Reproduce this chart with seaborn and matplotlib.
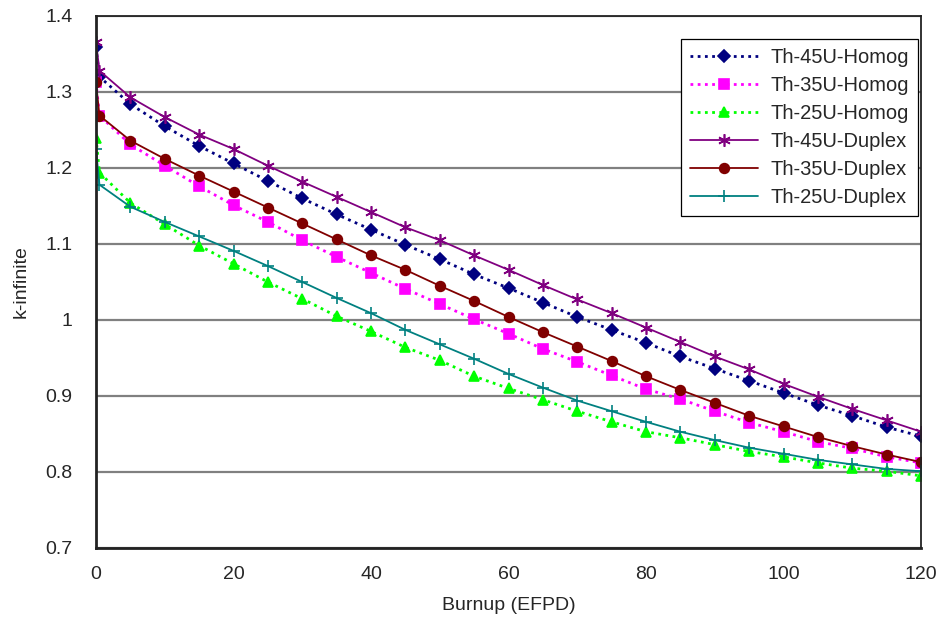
import numpy as np
import pandas as pd
import matplotlib
matplotlib.use("Agg")
import matplotlib.pyplot as plt
import seaborn as sns

burnup = [0, 0.5, 5, 10, 15, 20, 25, 30, 35, 40, 45, 50, 55, 60, 65, 70,
          75, 80, 85, 90, 95, 100, 105, 110, 115, 120]

th45_homog = [1.359, 1.320, 1.284, 1.255, 1.229, 1.206, 1.183, 1.160, 1.139, 1.119,
              1.099, 1.080, 1.060, 1.042, 1.023, 1.004, 0.987, 0.970, 0.952, 0.936,
              0.920, 0.904, 0.888, 0.874, 0.859, 0.847]
th35_homog = [1.313, 1.269, 1.231, 1.203, 1.176, 1.151, 1.129, 1.105, 1.083, 1.062,
              1.041, 1.021, 1.001, 0.982, 0.962, 0.945, 0.927, 0.909, 0.896, 0.880,
              0.865, 0.853, 0.840, 0.831, 0.820, 0.812]
th25_homog = [1.240, 1.194, 1.154, 1.126, 1.098, 1.074, 1.050, 1.028, 1.005, 0.985,
              0.964, 0.947, 0.926, 0.910, 0.895, 0.880, 0.866, 0.853, 0.845, 0.836,
              0.827, 0.820, 0.812, 0.805, 0.801, 0.795]
th45_duplex = [1.366, 1.328, 1.293, 1.267, 1.244, 1.225, 1.203, 1.182, 1.162, 1.142,
               1.122, 1.105, 1.085, 1.066, 1.046, 1.027, 1.009, 0.990, 0.971, 0.952,
               0.935, 0.916, 0.899, 0.883, 0.868, 0.853]
th35_duplex = [1.313, 1.269, 1.236, 1.212, 1.190, 1.169, 1.148, 1.127, 1.106, 1.085,
               1.066, 1.045, 1.025, 1.004, 0.984, 0.965, 0.946, 0.926, 0.908, 0.891,
               0.874, 0.860, 0.846, 0.834, 0.823, 0.813]
th25_duplex = [1.225, 1.178, 1.149, 1.129, 1.110, 1.091, 1.071, 1.050, 1.029, 1.009,
               0.987, 0.968, 0.949, 0.929, 0.911, 0.894, 0.880, 0.866, 0.853, 0.842,
               0.832, 0.824, 0.816, 0.810, 0.804, 0.801]

series_names = ["Th-45U-Homog", "Th-35U-Homog", "Th-25U-Homog",
                "Th-45U-Duplex", "Th-35U-Duplex", "Th-25U-Duplex"]
series_values = [th45_homog, th35_homog, th25_homog,
                 th45_duplex, th35_duplex, th25_duplex]

x_ticks = [0, 20, 40, 60, 80, 100, 120]
y_ticks = [0.7, 0.8, 0.9, 1.0, 1.1, 1.2, 1.3, 1.4]
y_ticklabels = ["0.7", "0.8", "0.9", "1", "1.1", "1.2", "1.3", "1.4"]

sns.set_style("white")
plt.rcParams['font.family'] = ['Liberation Sans', 'DejaVu Sans']

styles = {
    "Th-45U-Homog":  dict(color="#000080", ls=(0, (1, 1.6)), marker="D", ms=6.0, lw=2.0),
    "Th-35U-Homog":  dict(color="#FF00FF", ls=(0, (1, 1.6)), marker="s", ms=6.5, lw=2.0),
    "Th-25U-Homog":  dict(color="#00FF00", ls=(0, (1, 1.6)), marker="^", ms=7.5, lw=2.0),
    "Th-45U-Duplex": dict(color="#800080", ls="-", marker=(6, 2, 0), ms=9, lw=1.3),
    "Th-35U-Duplex": dict(color="#800000", ls="-", marker="o", ms=7.0, lw=1.3),
    "Th-25U-Duplex": dict(color="#008080", ls="-", marker="+", ms=8.5, lw=1.3),
}

df = pd.concat([pd.DataFrame({"Burnup": burnup, "kinf": v, "Series": n})
                for n, v in zip(series_names, series_values)], ignore_index=True)

fig = plt.figure(figsize=(9.43, 6.18), dpi=100)
ax = fig.add_axes([96 / 943, 1 - 548 / 618, (921 - 96) / 943, (548 - 16) / 618])

for name in series_names:
    st = styles[name]
    sub = df[df["Series"] == name]
    sns.lineplot(data=sub, x="Burnup", y="kinf", ax=ax, color=st["color"],
                 linestyle=st["ls"], linewidth=st["lw"], marker=st["marker"],
                 markersize=st["ms"], markeredgecolor=st["color"],
                 markerfacecolor=st["color"], markeredgewidth=1.2,
                 label=name, sort=False, errorbar=None)

ax.set_xlim(0, 120)
ax.set_ylim(0.7, 1.4)
ax.set_xticks(x_ticks)
ax.set_yticks(y_ticks)
ax.set_yticklabels(y_ticklabels)
ax.tick_params(axis="x", direction="in", length=5, width=1, labelsize=14, pad=13, color="#333333")
ax.tick_params(axis="y", length=0, labelsize=14, pad=17)
ax.yaxis.grid(True, color="#808080", linewidth=1.6)
ax.set_axisbelow(True)
for sp in ax.spines.values():
    sp.set_color("#222222")
    sp.set_linewidth(1.3)
ax.spines["bottom"].set_linewidth(2)
ax.spines["left"].set_linewidth(2)

ax.set_xlabel("Burnup (EFPD)", fontsize=14, labelpad=10)
ax.set_ylabel("k-infinite", fontsize=14, labelpad=11)

leg = ax.legend(loc="upper right", bbox_to_anchor=(0.996, 0.957), borderaxespad=0,
                fontsize=14.5, frameon=True, fancybox=False, edgecolor="black",
                handlelength=3.4, labelspacing=0.45, borderpad=0.45, handletextpad=0.6)
leg.get_frame().set_linewidth(0.9)
leg.get_frame().set_alpha(1)

fig.savefig("out.png", dpi=100)
